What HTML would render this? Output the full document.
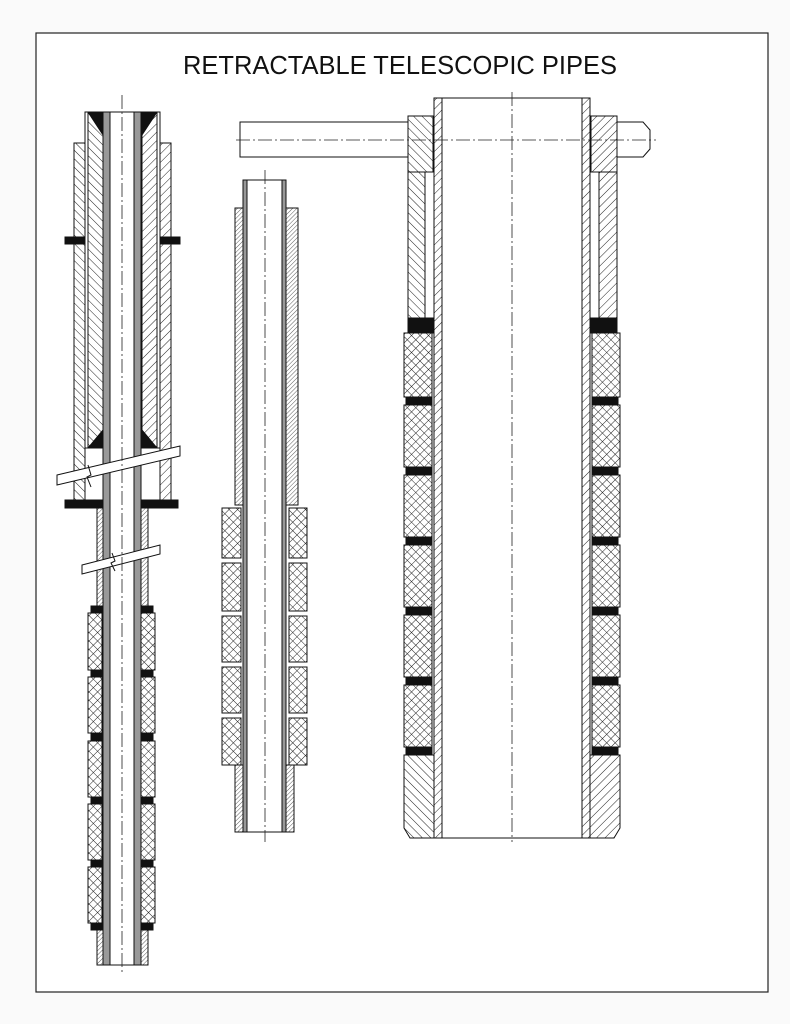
<!DOCTYPE html>
<html><head><style>body{margin:0;background:#fafafa}svg{display:block}</style></head><body>
<svg width="790" height="1024" viewBox="0 0 790 1024" xmlns="http://www.w3.org/2000/svg">
<defs>
<pattern id="h" width="6" height="6" patternUnits="userSpaceOnUse" patternTransform="rotate(45)"><rect width="6" height="6" fill="#fff"/><line x1="0" y1="0" x2="0" y2="6" stroke="#222" stroke-width="1"/></pattern>
<pattern id="hr" width="6" height="6" patternUnits="userSpaceOnUse" patternTransform="rotate(-45)"><rect width="6" height="6" fill="#fff"/><line x1="0" y1="0" x2="0" y2="6" stroke="#222" stroke-width="1"/></pattern>
<pattern id="hf" width="3" height="3" patternUnits="userSpaceOnUse" patternTransform="rotate(45)"><rect width="3" height="3" fill="#fff"/><line x1="0" y1="0" x2="0" y2="3" stroke="#333" stroke-width="0.8"/></pattern>
<pattern id="x" width="6" height="6" patternUnits="userSpaceOnUse" patternTransform="rotate(45)"><rect width="6" height="6" fill="#fff"/><line x1="0" y1="0" x2="0" y2="6" stroke="#222" stroke-width="1"/><line x1="0" y1="0" x2="6" y2="0" stroke="#222" stroke-width="1"/></pattern>
</defs>
<rect width="790" height="1024" fill="#fafafa"/>
<rect x="36" y="33" width="732" height="959" fill="#fff" stroke="#222" stroke-width="1.2"/>
<text x="400" y="74" text-anchor="middle" font-family="Liberation Sans, sans-serif" font-size="25.5" fill="#111">RETRACTABLE TELESCOPIC PIPES</text>
<g stroke="#111" stroke-width="1">
<!-- RIGHT PIPE -->
<rect x="240" y="122" width="168" height="35" fill="#fff"/>
<path d="M617 122 H643 L650 130 V149 L643 157 H617 Z" fill="#fff"/>
<rect x="408" y="116" width="25" height="56" fill="url(#hr)"/>
<rect x="591" y="116" width="26" height="56" fill="url(#h)"/>
<rect x="434" y="98" width="156" height="740" fill="#fff"/>
<rect x="434" y="98" width="8" height="740" fill="url(#h)"/>
<rect x="582" y="98" width="8" height="740" fill="url(#h)"/>
<rect x="408" y="172" width="17" height="146" fill="url(#hr)"/>
<rect x="425" y="172" width="9" height="146" fill="#fff"/>
<rect x="599" y="172" width="18" height="146" fill="url(#h)"/>
<rect x="590" y="172" width="9" height="146" fill="#fff"/>
<rect x="408" y="318" width="26" height="15" fill="#111"/>
<rect x="590" y="318" width="27" height="15" fill="#111"/>
<g fill="url(#x)">
<rect x="404" y="333" width="28" height="64"/><rect x="404" y="405" width="28" height="62"/><rect x="404" y="475" width="28" height="62"/><rect x="404" y="545" width="28" height="62"/><rect x="404" y="615" width="28" height="62"/><rect x="404" y="685" width="28" height="62"/>
<rect x="592" y="333" width="28" height="64"/><rect x="592" y="405" width="28" height="62"/><rect x="592" y="475" width="28" height="62"/><rect x="592" y="545" width="28" height="62"/><rect x="592" y="615" width="28" height="62"/><rect x="592" y="685" width="28" height="62"/>
</g>
<g fill="#111"><rect x="406" y="397" width="26" height="8"/><rect x="406" y="467" width="26" height="8"/><rect x="406" y="537" width="26" height="8"/><rect x="406" y="607" width="26" height="8"/><rect x="406" y="677" width="26" height="8"/><rect x="406" y="747" width="26" height="8"/>
<rect x="592" y="397" width="26" height="8"/><rect x="592" y="467" width="26" height="8"/><rect x="592" y="537" width="26" height="8"/><rect x="592" y="607" width="26" height="8"/><rect x="592" y="677" width="26" height="8"/><rect x="592" y="747" width="26" height="8"/></g>
<path d="M404 755 H434 V838 H410 L404 828 Z" fill="url(#hr)"/>
<path d="M590 755 H620 V828 L614 838 H590 Z" fill="url(#h)"/>
<!-- MIDDLE PIPE -->
<rect x="235" y="208" width="63" height="297" fill="url(#hf)"/>
<rect x="243" y="180" width="43" height="652" fill="#fff"/>
<rect x="243" y="180" width="4" height="652" fill="#999"/>
<rect x="282" y="180" width="4" height="652" fill="#999"/>
<g fill="url(#x)">
<rect x="222" y="508" width="19" height="50"/><rect x="222" y="563" width="19" height="48"/><rect x="222" y="616" width="19" height="46"/><rect x="222" y="667" width="19" height="46"/><rect x="222" y="718" width="19" height="47"/>
<rect x="289" y="508" width="18" height="50"/><rect x="289" y="563" width="18" height="48"/><rect x="289" y="616" width="18" height="46"/><rect x="289" y="667" width="18" height="46"/><rect x="289" y="718" width="18" height="47"/>
</g>
<rect x="235" y="765" width="8" height="67" fill="url(#hf)"/>
<rect x="286" y="765" width="8" height="67" fill="url(#hf)"/>
<!-- LEFT PIPE -->
<rect x="74" y="143" width="11" height="357" fill="url(#hr)"/>
<rect x="160" y="143" width="11" height="357" fill="url(#h)"/>
<rect x="85" y="112" width="75" height="336" fill="#fff"/>
<path d="M88 112 H103 V448 H88 Z" fill="url(#hr)"/>
<path d="M142 112 H157 V448 H142 Z" fill="url(#h)"/>
<path d="M88 112 H103 V135 Z" fill="#111"/><path d="M157 112 H142 V135 Z" fill="#111"/>
<path d="M88 448 H103 V430 Z" fill="#111"/><path d="M157 448 H142 V430 Z" fill="#111"/>
<rect x="65" y="237" width="20" height="7" fill="#111"/>
<rect x="160" y="237" width="20" height="7" fill="#111"/>
<rect x="65" y="500" width="38" height="8" fill="#111"/>
<rect x="142" y="500" width="36" height="8" fill="#111"/>
<rect x="97" y="508" width="6" height="98" fill="url(#hf)"/>
<rect x="141" y="508" width="7" height="98" fill="url(#hf)"/>
<rect x="103" y="112" width="38" height="853" fill="#fff"/>
<rect x="103" y="112" width="7" height="853" fill="#999"/>
<rect x="134" y="112" width="7" height="853" fill="#999"/>
<g fill="url(#x)">
<rect x="88" y="613" width="14" height="57"/><rect x="88" y="677" width="14" height="56"/><rect x="88" y="741" width="14" height="56"/><rect x="88" y="804" width="14" height="56"/><rect x="88" y="867" width="14" height="56"/>
<rect x="141" y="613" width="14" height="57"/><rect x="141" y="677" width="14" height="56"/><rect x="141" y="741" width="14" height="56"/><rect x="141" y="804" width="14" height="56"/><rect x="141" y="867" width="14" height="56"/>
</g>
<g fill="#111"><rect x="91" y="606" width="12" height="7"/><rect x="91" y="670" width="12" height="7"/><rect x="91" y="733" width="12" height="8"/><rect x="91" y="797" width="12" height="7"/><rect x="91" y="860" width="12" height="7"/><rect x="91" y="923" width="12" height="7"/>
<rect x="141" y="606" width="12" height="7"/><rect x="141" y="670" width="12" height="7"/><rect x="141" y="733" width="12" height="8"/><rect x="141" y="797" width="12" height="7"/><rect x="141" y="860" width="12" height="7"/><rect x="141" y="923" width="12" height="7"/></g>
<rect x="97" y="930" width="6" height="35" fill="url(#hf)"/>
<rect x="141" y="930" width="7" height="35" fill="url(#hf)"/>
<!-- break bands -->
<path d="M57 475 L180 446 L180 456 L57 485 Z" fill="#fff"/>
<path d="M82 565 L160 545 L160 554 L82 574 Z" fill="#fff"/>
<path d="M88 465 l3 10 l-4 2 l4 10" fill="none"/>
<path d="M112 553 l3 8 l-4 2 l4 8" fill="none"/>
</g>
<g stroke="#222" stroke-width="0.8" stroke-dasharray="14 3 2 3" fill="none">
<line x1="122" y1="95" x2="122" y2="975"/>
<line x1="265" y1="170" x2="265" y2="842"/>
<line x1="512" y1="92" x2="512" y2="842"/>
<line x1="236" y1="140" x2="656" y2="140"/>
</g>
</svg>
</body></html>
